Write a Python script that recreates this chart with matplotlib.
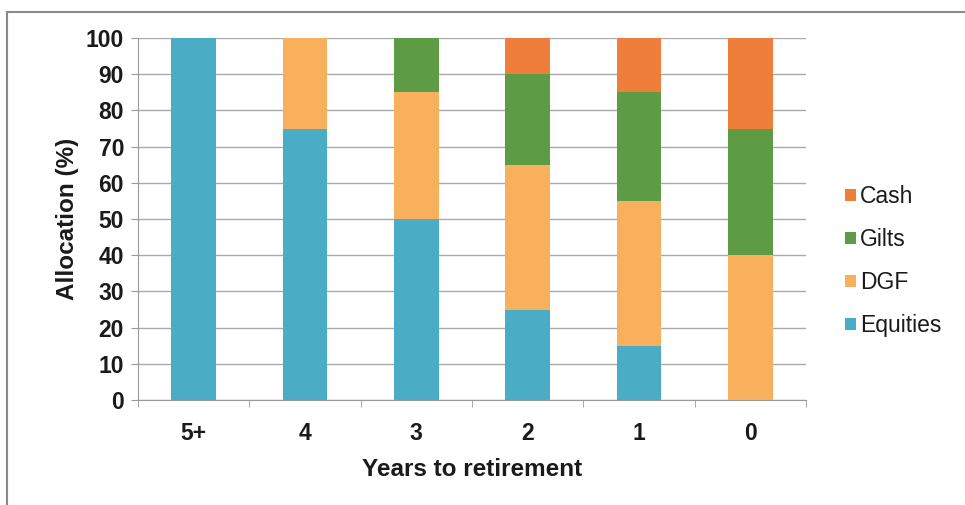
import numpy as np
import matplotlib.pyplot as plt
from matplotlib.patches import Rectangle

# allocation glide path by years to retirement
years = ['5+', '4', '3', '2', '1', '0']
equities = [100, 75, 50, 25, 15, 0]
dgf = [0, 25, 35, 40, 40, 40]
gilts = [0, 0, 15, 25, 30, 35]
cash = [0, 0, 0, 10, 15, 25]

series = [('Equities', equities, '#4bacc6'),
          ('DGF', dgf, '#f9b05c'),
          ('Gilts', gilts, '#5e9b45'),
          ('Cash', cash, '#f07e3b')]

plt.rcParams['font.family'] = ['Liberation Sans', 'DejaVu Sans']

fig = plt.figure(figsize=(9.65, 5.05), dpi=100)
ax = fig.add_axes([138 / 965, 1 - 400 / 505, 668 / 965, 362 / 505])

# thin grey border around the chart area
fig.patches.append(Rectangle((7 / 965, -0.1), 1.1, 1 - 12 / 505 + 0.1,
                             transform=fig.transFigure, fill=False,
                             edgecolor='#8a8a8a', linewidth=1.5))

x = np.arange(len(years))
bottom = np.zeros(len(years))
handles = []
for name, vals, col in series:
    b = ax.bar(x, vals, width=0.4, bottom=bottom, color=col, label=name, zorder=3)
    handles.append(b)
    bottom += np.array(vals)

ax.set_xlim(-0.5, len(years) - 0.5)
ax.set_ylim(0, 100)
ax.set_yticks(range(0, 101, 10))
ax.set_xticks(x)
ax.set_xticklabels(years)
ax.set_xticks(np.arange(-0.5, len(years), 1), minor=True)
ax.tick_params(axis='x', which='major', length=0, pad=16, labelsize=16.5)
ax.tick_params(axis='x', which='minor', length=5, color='#999999')
ax.tick_params(axis='y', length=5, color='#999999', pad=5, labelsize=16.5)
for lab in ax.get_xticklabels() + ax.get_yticklabels():
    lab.set_fontweight('bold')
    lab.set_color('#1a1a1a')

ax.grid(axis='y', color='#aaaaaa', linewidth=1, zorder=0)
for s in ['top', 'right']:
    ax.spines[s].set_visible(False)
ax.spines['left'].set_color('#999999')
ax.spines['bottom'].set_color('#999999')

ax.set_ylabel('Allocation (%)', fontsize=17.5, fontweight='bold', labelpad=5,
              color='#1a1a1a')
ax.set_xlabel('Years to retirement', fontsize=17.5, fontweight='bold', labelpad=9,
              color='#1a1a1a')

leg = ax.legend(handles[::-1], [s[0] for s in series][::-1],
                loc='center left', bbox_to_anchor=(1.058, 0.384), frameon=False,
                fontsize=16.5, handlelength=0.5, handleheight=0.45,
                handletextpad=0.15, labelspacing=0.87,
                borderaxespad=0, borderpad=0)
for t in leg.get_texts():
    t.set_color('#1a1a1a')

fig.savefig('out.png', dpi=100)
